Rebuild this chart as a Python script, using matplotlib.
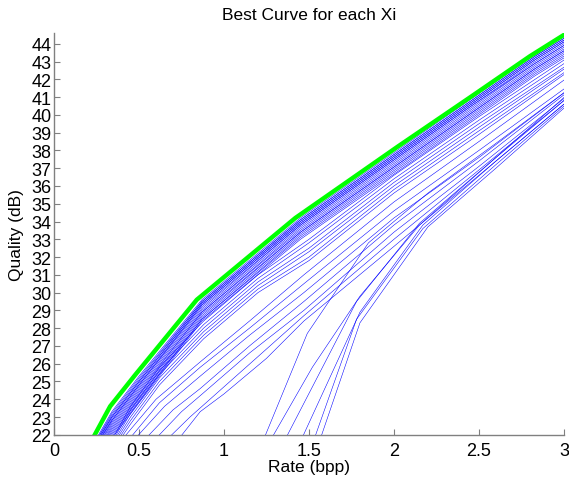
"""Rate-quality curves for every Xi, with the best curve highlighted."""

import matplotlib

matplotlib.use("Agg")
import matplotlib.pyplot as plt

plt.rcParams["font.family"] = ["Liberation Sans", "DejaVu Sans"]

# --------------------------------------------------------------------------- #
# Data (rate in bpp, quality in dB).
# --------------------------------------------------------------------------- #
BEST_RATE = [0.20, 0.33, 0.48, 0.84, 1.42, 2.02, 2.45, 2.80, 3.00, 3.05]
BEST_QUALITY = [21.3, 23.6, 25.4, 29.6, 34.2, 38.2, 41.0, 43.3, 44.5, 44.8]

# tight band right below the best curve
BAND_RATE = [0.22, 0.34, 0.50, 0.87, 1.45, 2.05, 2.47, 2.83, 3.05]
BAND_QUALITY = [
    [21.3, 23.3, 25.3, 29.6, 34.2, 38.2, 41.0, 43.4, 44.7],
    [21.2, 23.2, 25.2, 29.5, 34.1, 38.1, 40.9, 43.3, 44.6],
    [21.2, 23.1, 25.1, 29.5, 34.1, 38.1, 40.9, 43.3, 44.6],
    [21.1, 23.0, 25.0, 29.4, 34.0, 38.0, 40.8, 43.2, 44.5],
    [21.1, 23.0, 25.0, 29.4, 34.0, 38.0, 40.8, 43.2, 44.5],
    [21.0, 22.9, 24.9, 29.3, 33.9, 37.9, 40.7, 43.1, 44.4],
    [21.0, 22.8, 24.8, 29.3, 33.9, 37.9, 40.7, 43.1, 44.4],
    [20.9, 22.8, 24.8, 29.2, 33.8, 37.8, 40.6, 43.0, 44.3],
    [20.8, 22.7, 24.7, 29.1, 33.8, 37.8, 40.6, 42.9, 44.2],
    [20.8, 22.6, 24.6, 29.0, 33.7, 37.7, 40.5, 42.9, 44.2],
    [20.7, 22.5, 24.5, 28.9, 33.6, 37.6, 40.4, 42.8, 44.1],
    [20.6, 22.4, 24.4, 28.9, 33.5, 37.5, 40.3, 42.7, 44.0],
    [20.6, 22.3, 24.3, 28.8, 33.4, 37.4, 40.2, 42.6, 43.9],
    [20.5, 22.2, 24.2, 28.7, 33.4, 37.4, 40.2, 42.6, 43.9],
    [20.4, 22.1, 24.1, 28.6, 33.3, 37.3, 40.1, 42.5, 43.8],
    [20.4, 22.0, 24.0, 28.5, 33.2, 37.2, 40.0, 42.4, 43.7],
    [20.3, 21.9, 23.9, 28.5, 33.1, 37.1, 39.9, 42.3, 43.6],
    [20.2, 21.8, 23.8, 28.4, 33.0, 37.0, 39.8, 42.2, 43.5],
]

# second, looser band
LOOSE_RATE = [0.30, 0.45, 0.62, 0.88, 1.20, 1.50, 2.00, 2.50, 3.05]
LOOSE_QUALITY = [
    [21.0, 23.6, 25.8, 28.4, 31.0, 33.0, 36.6, 39.9, 43.4],
    [20.9, 23.4, 25.6, 28.2, 30.8, 32.8, 36.4, 39.7, 43.2],
    [20.8, 23.2, 25.4, 28.0, 30.6, 32.5, 36.2, 39.5, 43.0],
    [20.7, 23.0, 25.2, 27.8, 30.4, 32.3, 36.0, 39.3, 42.9],
    [20.6, 22.8, 25.0, 27.6, 30.2, 32.0, 35.8, 39.1, 42.7],
    [20.5, 22.6, 24.8, 27.4, 30.0, 31.8, 35.6, 38.9, 42.6],
]

# curves starting further right
MID_RATES = [
    [0.38, 0.60, 0.86, 1.15, 1.47, 2.00, 2.50, 3.05],
    [0.42, 0.62, 0.86, 1.15, 1.47, 2.00, 2.50, 3.05],
    [0.45, 0.65, 0.86, 1.15, 1.47, 2.00, 2.50, 3.05],
    [0.52, 0.70, 0.86, 1.15, 1.47, 2.00, 2.50, 3.05],
    [0.58, 0.75, 0.86, 1.15, 1.47, 2.00, 2.50, 3.05],
    [0.65, 0.80, 1.00, 1.20, 1.47, 2.00, 2.50, 3.05],
    [0.72, 0.86, 1.00, 1.25, 1.47, 2.00, 2.50, 3.05],
]
MID_QUALITIES = [
    [21.5, 24.0, 26.1, 28.4, 31.0, 35.1, 38.5, 42.3],
    [21.5, 23.8, 25.8, 28.0, 30.5, 34.6, 38.0, 41.8],
    [21.5, 23.6, 25.3, 27.6, 30.0, 34.2, 37.6, 41.6],
    [21.6, 23.4, 24.6, 27.0, 29.5, 33.8, 37.4, 41.5],
    [21.6, 23.3, 24.2, 26.6, 29.0, 33.4, 37.1, 41.3],
    [21.6, 23.0, 24.7, 26.4, 28.7, 33.0, 36.9, 41.2],
    [21.6, 23.3, 24.3, 26.3, 28.4, 32.6, 36.6, 41.0],
]

# steep curves that only reach 22 dB above 1.2 bpp
STEEP_RATES = [
    [1.18, 1.49, 1.85, 2.20, 2.60, 3.05],
    [1.22, 1.52, 1.80, 2.15, 2.60, 3.05],
    [1.32, 1.78, 2.15, 2.60, 3.05],
    [1.42, 1.80, 2.17, 2.60, 3.05],
    [1.51, 1.78, 2.17, 2.60, 3.05],
    [1.55, 1.80, 2.20, 2.60, 3.05],
]
STEEP_QUALITIES = [
    [20.5, 27.7, 32.8, 35.6, 38.4, 41.6],
    [20.8, 25.8, 29.8, 33.8, 37.6, 41.4],
    [21.0, 29.5, 33.9, 37.6, 41.2],
    [21.0, 28.9, 33.8, 37.4, 41.0],
    [21.2, 28.5, 33.6, 37.2, 40.9],
    [21.3, 28.3, 33.7, 37.0, 40.8],
]

X_TICKS = [0, 0.5, 1, 1.5, 2, 2.5, 3]
X_TICK_LABELS = ["0", "0.5", "1", "1.5", "2", "2.5", "3"]
Y_TICKS = list(range(22, 45))

BLUE = "#0000ff"
GREEN = "#00ff00"
AXIS_GRAY = "#808080"


def plot_curves() -> None:
    fig = plt.figure(figsize=(5.69, 4.81), dpi=100)
    ax = fig.add_axes([0.095, 0.094, 0.896, 0.835])

    thin = dict(color=BLUE, linewidth=0.38, solid_joinstyle="miter")
    for quality in BAND_QUALITY:
        ax.plot(BAND_RATE, quality, **thin)
    for quality in LOOSE_QUALITY:
        ax.plot(LOOSE_RATE, quality, **thin)
    for rate, quality in zip(MID_RATES, MID_QUALITIES):
        ax.plot(rate, quality, **thin)
    for rate, quality in zip(STEEP_RATES, STEEP_QUALITIES):
        ax.plot(rate, quality, **thin)
    ax.plot(BEST_RATE, BEST_QUALITY, color=GREEN, linewidth=3.2)

    ax.set_xlim(0, 3)
    ax.set_ylim(22, 44.6)
    ax.set_xticks(X_TICKS)
    ax.set_xticklabels(X_TICK_LABELS)
    ax.set_yticks(Y_TICKS)

    for side in ("top", "right"):
        ax.spines[side].set_visible(False)
    for side in ("left", "bottom"):
        ax.spines[side].set_color(AXIS_GRAY)
        ax.spines[side].set_linewidth(1.0)
    ax.tick_params(direction="in", length=4, color=AXIS_GRAY, labelsize=13,
                   labelcolor="black")
    ax.tick_params(axis="x", pad=5)
    ax.tick_params(axis="y", pad=2)

    ax.set_title("Best Curve for each Xi", fontsize=12.5, pad=10)
    ax.set_xlabel("Rate (bpp)", fontsize=12.5, labelpad=0)
    ax.set_ylabel("Quality (dB)", fontsize=12.5, labelpad=5)

    fig.savefig("out.png", dpi=100)
    plt.close(fig)


if __name__ == "__main__":
    plot_curves()
